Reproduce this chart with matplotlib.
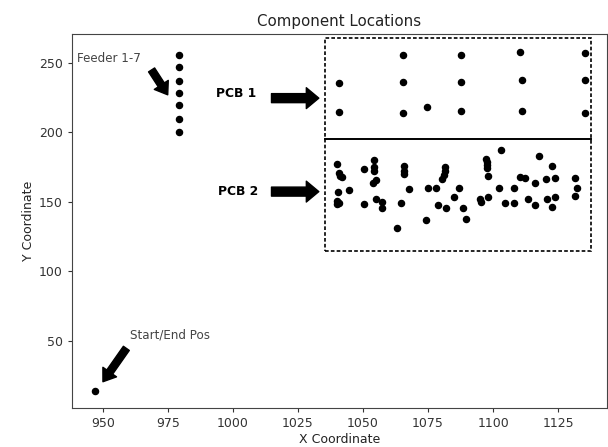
import numpy as np
import matplotlib
matplotlib.use('Agg')
import matplotlib.pyplot as plt
from matplotlib.patches import Rectangle

# start / end position of the head
start_x = [947.1]
start_y = [13.8]

# feeders 1-7
feeder_x = [979.2] * 7
feeder_y = [200.1, 209.7, 219.4, 228.0, 236.6, 246.7, 255.5]

# PCB 1 component locations
pcb1_x = [1040.8, 1040.8, 1065.2, 1065.2, 1065.2, 1074.4, 1087.5, 1087.5,
          1087.5, 1110.2, 1111.2, 1111.2, 1135.2, 1135.2, 1135.2]
pcb1_y = [235.6, 214.7, 255.5, 236.1, 214.0, 217.9, 255.5, 236.1,
          215.3, 257.5, 237.6, 215.3, 256.8, 237.6, 214.0]

# PCB 2 component locations
pcb2_x = [1040.0, 1040.7, 1041.3, 1041.9, 1040.4, 1044.6, 1040.0, 1040.7, 1040.0,
          1050.4, 1054.2, 1054.2, 1054.2, 1053.8, 1054.9, 1050.4, 1054.9, 1057.2,
          1057.2, 1063.2, 1065.9, 1065.9, 1065.9, 1067.6, 1064.5, 1074.2, 1075.0,
          1078.1, 1081.4, 1081.4, 1081.0, 1080.5, 1078.7, 1081.8, 1084.8, 1086.7,
          1088.6, 1089.5,
          1103.1, 1097.1, 1097.5, 1097.5, 1097.5, 1098.0, 1094.9, 1095.2, 1098.0,
          1102.1, 1104.6, 1108.0, 1108.0, 1110.2, 1112.1, 1113.6, 1116.2, 1116.3,
          1117.6, 1120.3, 1120.7, 1122.5, 1123.7, 1123.7, 1122.7, 1131.4, 1132.2,
          1131.4]
pcb2_y = [177.1, 170.4, 168.7, 167.6, 156.8, 158.4, 150.5, 149.3, 148.1,
          173.5, 180.0, 175.2, 172.1, 163.7, 165.4, 148.6, 151.7, 149.6,
          145.7, 131.3, 175.9, 172.1, 169.7, 159.1, 149.3, 136.8, 159.6,
          159.6, 175.2, 172.3, 169.2, 166.1, 147.4, 145.3, 153.6, 159.6,
          145.3, 137.6,
          187.4, 180.7, 178.3, 176.4, 174.5, 168.7, 151.7, 150.0, 153.4,
          159.6, 149.1, 149.1, 159.6, 168.0, 167.3, 152.2, 163.7, 147.8,
          183.1, 166.1, 152.2, 175.7, 166.8, 153.4, 146.0, 167.3, 159.6,
          154.1]

xs = np.concatenate([start_x, feeder_x, pcb1_x, pcb2_x])
ys = np.concatenate([start_y, feeder_y, pcb1_y, pcb2_y])

fig = plt.figure(figsize=(6.08, 4.47), dpi=100)
ax = fig.add_axes([0.1184, 0.0872, 0.880, 0.837])

ax.plot(xs, ys, 'ko', markersize=4.4, linestyle='none')

ax.set_xlim(938.1, 1143.8)
ax.set_ylim(1.6, 270.6)
ax.set_xticks([950, 975, 1000, 1025, 1050, 1075, 1100, 1125])
ax.set_yticks([50, 100, 150, 200, 250])
ax.tick_params(labelsize=9, colors='#333333', length=3)
for s in ax.spines.values():
    s.set_color('#444444')

ax.set_title('Component Locations', fontsize=10.8, color='#222222')
ax.set_xlabel('X Coordinate', fontsize=9, color='#222222', labelpad=2)
ax.set_ylabel('Y Coordinate', fontsize=9, color='#222222', labelpad=3)

# PCB outlines (dashed box, solid split line)
box = Rectangle((1035.5, 114.5), 1137.8 - 1035.5, 267.3 - 114.5, fill=False,
                edgecolor='black', linewidth=1.2, linestyle=(0, (2.2, 1.3)))
ax.add_patch(box)
ax.plot([1035.5, 1137.8], [195.1, 195.1], color='black', linewidth=1.4)

# labels with arrows
big = dict(facecolor='black', edgecolor='black', width=6.5, headwidth=15,
           headlength=9, shrink=0)
small = dict(facecolor='black', edgecolor='black', width=5.2, headwidth=12,
             headlength=8.5, shrink=0)

ax.text(940.0, 253.2, 'Feeder 1-7', fontsize=8.6, color='#444444',
        ha='left', va='center')
ax.annotate('', xy=(974.9, 226.8), xytext=(968.7, 244.7), arrowprops=small)

ax.text(960.3, 54.1, 'Start/End Pos', fontsize=8.6, color='#444444',
        ha='left', va='center')
ax.annotate('', xy=(950.0, 20.5), xytext=(959.0, 44.5), arrowprops=small)

ax.text(993.6, 228.0, 'PCB 1', fontsize=8.8, fontweight='bold',
        ha='left', va='center')
ax.annotate('', xy=(1033.0, 224.4), xytext=(1014.8, 224.4), arrowprops=big)

ax.text(994.1, 157.2, 'PCB 2', fontsize=8.8, fontweight='bold',
        ha='left', va='center')
ax.annotate('', xy=(1033.0, 157.2), xytext=(1014.8, 157.2), arrowprops=big)

fig.savefig('out.png', dpi=100)
